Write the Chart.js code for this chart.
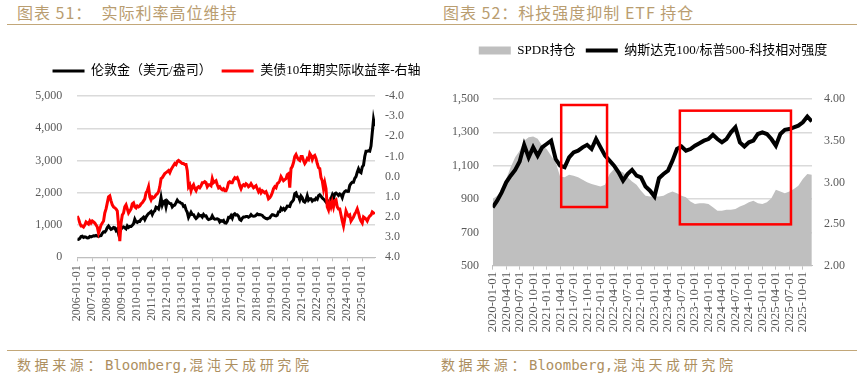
<!DOCTYPE html>
<html><head><meta charset="utf-8">
<script src="https://cdn.jsdelivr.net/npm/chart.js@4.4.1/dist/chart.umd.min.js"></script>
<style>
html,body{margin:0;padding:0;background:#fff;width:862px;height:378px;overflow:hidden;position:relative}
.title{position:absolute;top:1px;font-family:'Noto Sans CJK SC',sans-serif;font-size:16px;color:#b99d70;letter-spacing:1px;white-space:pre;line-height:23px}
.rule{position:absolute;left:7px;width:850px;height:0;border-top:1.5px solid #c2a779}
.src{position:absolute;top:354px;font-family:'Noto Sans CJK SC',sans-serif;font-size:14px;color:#ad8f5f;letter-spacing:3.6px;white-space:pre;line-height:20px}
.src .en{font-family:'DejaVu Sans Mono',monospace;letter-spacing:0}
canvas{position:absolute;top:30px}
</style>
</head><body>
<div class="title" style="left:17px">图表 51：  实际利率高位维持</div>
<div class="title" style="left:443px">图表 52：科技强度抑制 ETF 持仓</div>
<div class="rule" style="top:24px"></div>
<div class="rule" style="top:350px"></div>
<div class="src" style="left:17px">数据来源：<span class="en">Bloomberg,</span>混沌天成研究院</div>
<div class="src" style="left:441px">数据来源：<span class="en">Bloomberg,</span>混沌天成研究院</div>
<canvas id="c1" width="431" height="320" style="left:0"></canvas>
<canvas id="c2" width="431" height="320" style="left:431px"></canvas>
<script>
// ---------- Chart 51: gold vs US 10y real yield (monthly, from 2006-01) ----------
const goldStartYear = 2006;
const goldPrice = [
 568,556,582,644,653,613,632,623,599,604,646,632,
 650,665,662,680,659,650,665,673,743,789,783,834,
 923,971,916,865,885,928,915,833,880,730,815,870,
 928,942,916,883,975,926,954,955,996,1040,1179,1096,
 1081,1118,1113,1180,1207,1244,1169,1248,1307,1357,1386,1421,
 1327,1411,1439,1556,1536,1500,1628,1850,1620,1722,1746,1563,
 1740,1697,1669,1664,1561,1604,1622,1693,1772,1719,1711,1675,
 1663,1578,1597,1472,1393,1234,1312,1396,1327,1323,1253,1202,
 1240,1326,1284,1296,1250,1327,1282,1287,1210,1172,1183,1199,
 1284,1213,1183,1184,1190,1172,1095,1135,1115,1142,1065,1061,
 1118,1238,1233,1293,1215,1322,1351,1309,1316,1273,1173,1146,
 1211,1249,1249,1268,1268,1242,1269,1322,1280,1271,1275,1303,
 1345,1318,1325,1316,1299,1253,1224,1202,1192,1215,1222,1282,
 1321,1313,1292,1284,1305,1409,1414,1520,1472,1511,1464,1517,
 1589,1585,1577,1687,1730,1781,1975,2000,1887,1879,1776,1898,
 1847,1734,1708,1769,1907,1770,1814,1814,1743,1783,1774,1829,
 1797,1909,1937,1897,1838,1807,1766,1711,1660,1633,1768,1824,
 1928,1827,1969,1990,1962,1919,1965,1940,1849,1983,2036,2063,
 2040,2044,2230,2286,2327,2327,2448,2503,2635,2744,2653,2625,
 2798,2858,3124,3289,3289,3303,3290,3448,3858,4270,4060
];
const realYield = [
 1.95,2.1,2.3,2.45,2.45,2.5,2.4,2.25,2.3,2.35,2.2,2.3,
 2.2,2.25,2.3,2.4,2.5,2.8,2.6,2.4,2.3,2.2,1.8,1.6,
 1.3,1.0,0.95,1.2,1.4,1.5,1.55,1.6,1.7,2.4,3.2,2.3,
 1.9,1.8,1.5,1.4,1.6,1.8,1.7,1.6,1.35,1.3,1.5,1.55,
 1.45,1.5,1.45,1.35,1.3,1.2,1.1,0.8,0.7,0.5,1.0,1.15,
 1.0,1.05,1.0,0.9,0.85,0.75,0.5,0.1,0.05,-0.05,-0.15,-0.2,
 -0.25,-0.3,-0.2,-0.35,-0.45,-0.55,-0.65,-0.6,-0.75,-0.8,-0.75,-0.7,
 -0.65,-0.65,-0.6,-0.6,-0.3,0.5,0.4,0.7,0.5,0.4,0.6,0.7,
 0.55,0.5,0.55,0.45,0.3,0.3,0.25,0.3,0.5,0.4,0.4,0.45,
 0.1,0.3,0.25,0.2,0.4,0.55,0.5,0.6,0.65,0.6,0.7,0.7,
 0.55,0.3,0.25,0.3,0.3,0.15,0.05,0.1,0.05,0.2,0.45,0.6,
 0.45,0.4,0.45,0.35,0.4,0.5,0.45,0.35,0.45,0.55,0.5,0.45,
 0.6,0.75,0.65,0.8,0.7,0.75,0.8,0.75,0.9,1.1,1.05,0.95,
 0.8,0.6,0.5,0.55,0.35,0.3,0.2,0.0,0.1,0.2,0.15,0.1,
 -0.1,-0.15,0.55,-0.4,-0.5,-0.7,-1.0,-1.1,-0.95,-0.85,-0.8,-1.0,
 -1.0,-0.8,-0.65,-0.75,-0.9,-0.85,-1.15,-1.05,-0.85,-1.0,-1.05,-0.9,
 -0.65,-0.45,-0.4,0.05,0.2,0.6,0.3,0.6,1.5,1.65,1.3,1.5,
 1.25,1.5,1.2,1.15,1.5,1.6,1.6,1.9,2.2,2.45,2.1,1.7,
 1.85,1.95,1.9,2.2,2.1,2.0,1.85,1.75,1.6,1.8,2.05,2.2,
 2.3,2.0,2.05,2.1,2.2,2.05,1.95,1.9,1.75,1.8,1.85
];
const goldLabels = ['伦敦金（美元/盎司）', '美债10年期实际收益率-右轴'];

// ---------- Chart 52: SPDR holdings vs Nasdaq100/S&P500 relative strength (monthly, from 2020-01) ----------
const etfStartYear = 2020;
const spdrHoldings = [
 900,920,950,1020,1090,1150,1190,1250,1270,1275,1262,1220,
 1200,1160,1120,1035,1030,1045,1040,1030,1015,1000,990,982,
 975,985,1050,1080,1070,1060,1030,1005,985,950,920,915,
 915,915,920,935,945,935,920,910,885,870,875,875,
 870,850,830,830,835,835,840,855,865,880,890,875,
 870,880,905,955,945,935,945,960,980,1020,1050,1045
];
const techStrength = [
 2.70,2.78,2.88,3.00,3.08,3.15,3.25,3.45,3.30,3.42,3.32,3.42,
 3.46,3.50,3.28,3.20,3.18,3.30,3.36,3.38,3.42,3.45,3.40,3.52,
 3.42,3.32,3.26,3.20,3.12,3.02,3.10,3.15,3.08,3.06,2.95,2.90,
 2.83,3.05,3.10,3.14,3.26,3.40,3.43,3.38,3.40,3.44,3.47,3.50,
 3.52,3.57,3.52,3.48,3.52,3.60,3.66,3.48,3.43,3.48,3.50,3.58,
 3.60,3.58,3.52,3.44,3.58,3.63,3.64,3.66,3.68,3.72,3.79,3.73
];
const etfLabels = ['SPDR持仓', '纳斯达克100/标普500-科技相对强度'];
// highlighted periods: [xFrom, xTo, holdingsLow, holdingsHigh]
const highlightBoxes = [[2021.27, 2022.12, 852, 1464], [2023.47, 2025.53, 748, 1430]];

// ---------- rendering ----------
const FONT = "'Liberation Serif','Noto Sans CJK SC',serif";
Chart.defaults.font.family = FONT;
Chart.defaults.color = '#595959';
const monthly = (arr, start) => arr.map((v, i) => ({x: start + i / 12, y: v}));
const comma = v => Number(v).toLocaleString('en-US');
// fixes the legend band height and shifts the centred legend horizontally
const legendBand = (h, dx) => ({id: 'legendBand',
  beforeInit(chart) {
    const fit = chart.legend.fit;
    chart.legend.fit = function () { fit.call(this); this.height = h; };
  },
  afterLayout(chart) { chart.legend.left += dx; chart.legend.right += dx; }
});
const customLegend = items => ({
  display: true, position: 'top',
  labels: {
    usePointStyle: true, pointStyleWidth: 32, boxHeight: 8, padding: 10,
    color: '#000', font: {size: 13, family: FONT},
    generateLabels: () => items
  }
});

new Chart(document.getElementById('c1'), {
  type: 'line',
  data: {datasets: [
    {label: goldLabels[0], data: monthly(goldPrice, goldStartYear), yAxisID: 'y',
     borderColor: '#000000', borderWidth: 3, pointRadius: 0, tension: 0, order: 2},
    {label: goldLabels[1], data: monthly(realYield, goldStartYear), yAxisID: 'y2',
     borderColor: '#ff0000', borderWidth: 3, pointRadius: 0, tension: 0, order: 1}
  ]},
  options: {
    responsive: false, animation: false, devicePixelRatio: 1,
    layout: {padding: {left: 0, right: 0, top: 24.5, bottom: 0}},
    plugins: {
      tooltip: {enabled: false},
      legend: customLegend([
        {text: goldLabels[0], pointStyle: 'line', strokeStyle: '#000', fillStyle: '#000', lineWidth: 3, datasetIndex: 0},
        {text: goldLabels[1], pointStyle: 'line', strokeStyle: '#ff0000', fillStyle: '#ff0000', lineWidth: 3, datasetIndex: 1}
      ])
    },
    scales: {
      x: {type: 'linear', min: 2006, max: 2025.85,
          ticks: {stepSize: 1, includeBounds: false, autoSkip: false, minRotation: 90, maxRotation: 90,
                  padding: 4, font: {size: 12}, callback: v => Math.round(v) + '-01-01'},
          grid: {display: true, drawOnChartArea: false, tickLength: 4, color: '#bfbfbf'},
          border: {color: '#bfbfbf'},
          afterFit: s => { s.height = 92.7; }},
      y: {position: 'left', min: 0, max: 5000,
          ticks: {stepSize: 1000, padding: 15, font: {size: 12}, callback: comma},
          grid: {color: '#dadada', lineWidth: 1.5, drawTicks: false},
          border: {display: false},
          afterFit: s => { s.width = 77.3; }},
      y2: {position: 'right', min: -4, max: 4, reverse: true,
          ticks: {stepSize: 1, padding: 10, font: {size: 12}, callback: v => Number(v).toFixed(1)},
          grid: {display: false, drawTicks: false},
          border: {display: false},
          afterFit: s => { s.width = 56; }}
    }
  },
  plugins: [legendBand(41.5, 21)]
});

const boxPlugin = {id: 'boxes', afterDatasetsDraw(chart) {
  const {ctx, scales: {x, y}} = chart;
  ctx.save();
  ctx.strokeStyle = '#ff0000'; ctx.lineWidth = 2.5;
  highlightBoxes.forEach(b => {
    const x0 = x.getPixelForValue(b[0]), x1 = x.getPixelForValue(b[1]);
    const y0 = y.getPixelForValue(b[3]), y1 = y.getPixelForValue(b[2]);
    ctx.strokeRect(x0, y0, x1 - x0, y1 - y0);
  });
  ctx.restore();
}};

new Chart(document.getElementById('c2'), {
  type: 'line',
  data: {datasets: [
    {label: etfLabels[0], data: monthly(spdrHoldings, etfStartYear), yAxisID: 'y',
     backgroundColor: '#bfbfbf', borderColor: 'rgba(0,0,0,0)', borderWidth: 0, fill: 'start',
     pointRadius: 0, tension: 0, order: 2},
    {label: etfLabels[1], data: monthly(techStrength, etfStartYear), yAxisID: 'y2',
     borderColor: '#000000', borderWidth: 4, pointRadius: 0, tension: 0, order: 1}
  ]},
  options: {
    responsive: false, animation: false, devicePixelRatio: 1,
    layout: {padding: {left: 0, right: 0, top: 4, bottom: 0}},
    plugins: {
      tooltip: {enabled: false},
      legend: customLegend([
        {text: etfLabels[0], pointStyle: 'rect', strokeStyle: '#bfbfbf', fillStyle: '#bfbfbf', lineWidth: 0, datasetIndex: 0},
        {text: etfLabels[1], pointStyle: 'line', strokeStyle: '#000', fillStyle: '#000', lineWidth: 4, datasetIndex: 1}
      ])
    },
    scales: {
      x: {type: 'linear', min: 2020, max: 2025.92,
          ticks: {stepSize: 0.25, includeBounds: false, autoSkip: false, minRotation: 90, maxRotation: 90,
                  padding: 2, font: {size: 13},
                  callback: v => { const yr = Math.floor(v + 1e-6); const m = Math.round((v - yr) * 12) + 1;
                                   return yr + '-' + String(m).padStart(2, '0') + '-01'; }},
          grid: {display: true, drawOnChartArea: false, tickLength: 4, color: '#bfbfbf'},
          border: {color: '#bfbfbf'},
          afterFit: s => { s.height = 84.3; }},
      y: {position: 'left', min: 500, max: 1500,
          ticks: {stepSize: 200, padding: 13.7, font: {size: 12}, callback: comma},
          grid: {color: '#dadada', lineWidth: 1.5, drawTicks: false},
          border: {display: false},
          afterFit: s => { s.width = 61.7; }},
      y2: {position: 'right', min: 2, max: 4,
          ticks: {stepSize: 0.5, padding: 12, font: {size: 12}, callback: v => Number(v).toFixed(2)},
          grid: {display: false, drawTicks: false},
          border: {display: false},
          afterFit: s => { s.width = 50; }}
    }
  },
  plugins: [legendBand(65, 6.5), boxPlugin]
});
</script>
</body></html>
